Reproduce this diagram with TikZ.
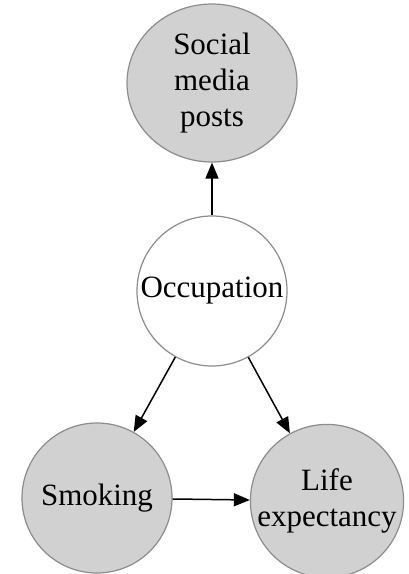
\documentclass[tikz,border=0pt]{standalone}
\usepackage{fontspec}
\setmainfont{Liberation Serif}
\usetikzlibrary{arrows.meta,shapes.geometric}
\begin{document}
\begin{tikzpicture}[x=1pt, y=-1pt, >={Triangle[length=16pt,width=13pt]}]
			\tikzset{
				var/.style={circle, draw=gray!90, line width=1.2pt, fill=black!18, minimum size=150pt,
						inner sep=0, align=center, font=\fontsize{31}{36}\selectfont},
				latent/.style={var, fill=white},
				link/.style={->, line width=1.5pt},
			}
			\useasboundingbox (0,0) rectangle (408,574);
			% nodes
			\node[var, ellipse, minimum width=170pt, minimum height=158pt] (posts) at (212,83) {Social\\media\\posts};
			\node[latent] (occupation) at (212,291) {Occupation};
			\node[var] (smoking) at (97,498) {Smoking};
			\node[var] (life) at (327,501) {Life\\expectancy};
			% edges
			\draw[link] (occupation) -- (posts);
			\draw[link] (occupation) -- (smoking);
			\draw[link] (occupation) -- (life);
			\draw[link] (smoking) -- (life);
		\end{tikzpicture}
\end{document}
